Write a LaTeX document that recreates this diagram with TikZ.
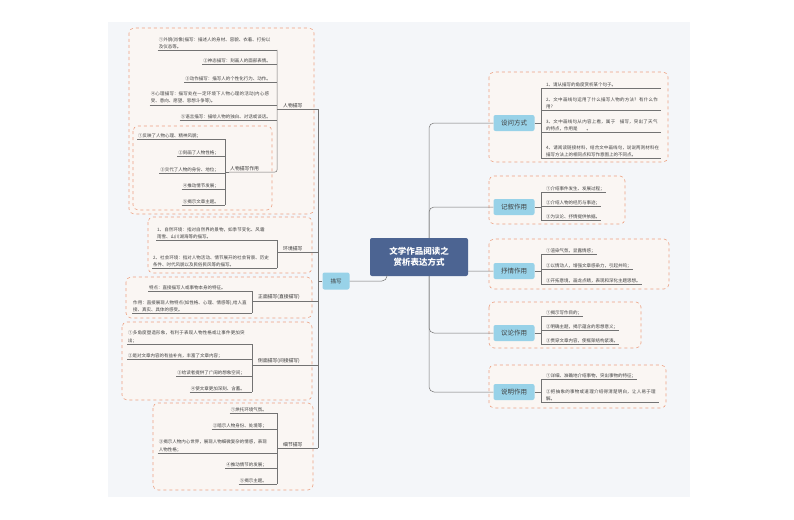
\documentclass[tikz,border=0pt]{standalone}
\usepackage{fontspec}
\setmainfont{Noto Sans CJK SC}
\XeTeXlinebreaklocale "zh"
\XeTeXlinebreakskip=0pt plus 1pt
\definecolor{cmain}{RGB}{76,100,146}
\definecolor{ccat}{RGB}{152,210,232}
\definecolor{cbg}{RGB}{244,246,249}
\definecolor{cdash}{RGB}{236,160,130}
\definecolor{cgrp}{RGB}{250,246,243}
\begin{document}
\begin{tikzpicture}[x=1pt,y=-1pt,
  it/.style={inner sep=1pt,font=\fontsize{4.5}{7.2}\selectfont,text=black!75,align=left},
  lab/.style={inner sep=1pt,font=\fontsize{4.8}{7}\selectfont,text=black!80},
  ln/.style={draw=black!55,line width=0.5pt,rounded corners=2pt},
  grp/.style={draw=cdash,dashed,line width=0.6pt,fill=cgrp,rounded corners=5pt},
  cat/.style={fill=ccat,rounded corners=2pt,font=\fontsize{6.5}{8}\selectfont,text=black!75,minimum width=41pt,minimum height=16pt,inner sep=1pt}]
\useasboundingbox (0,0) rectangle (794,519);
\fill[white] (0,0) rectangle (794,519);
\fill[cbg] (108,22) rectangle (690,497);
% groups
\draw[grp] (129,28) rectangle (314,214);
\draw[grp] (133,126) rectangle (272,210);
\draw[grp] (148,217) rectangle (312,273);
\draw[grp] (126,277) rectangle (312,318);
\draw[grp] (122,322) rectangle (312,400);
\draw[grp] (153,403) rectangle (313,490);
\draw[grp] (489,72) rectangle (668,162);
\draw[grp] (489,176) rectangle (625,224);
\draw[grp] (489,239) rectangle (669,289);
\draw[grp] (489,302) rectangle (641,348);
\draw[grp] (489,365) rectangle (666,408);
\coordinate (bL1) at (277,0);
\coordinate (bL2) at (225,0);
\coordinate (bL3) at (252,0);
\coordinate (bT) at (318,0);
\coordinate (bR) at (541,0);
\coordinate (cc) at (429,257);
% right cats
\node[cat] (s1) at (514,123) {设问方式};
\node[cat] (s2) at (514,207) {记叙作用};
\node[cat] (s3) at (514,271) {抒情作用};
\node[cat] (s4) at (514,333) {议论作用};
\node[cat] (s5) at (514,392) {说明作用};
\foreach \n in {s1,s2,s3,s4,s5}{\draw[ln,rounded corners=5pt] (cc) |- (\n.west);}
\node[fill=cmain,text=white,rounded corners=2pt,font=\bfseries\fontsize{8.5}{11}\selectfont,align=center,minimum width=98pt,minimum height=38pt] (c) at (419,257) {文学作品阅读之\\赏析表达方式};
\node[cat,minimum width=27pt,minimum height=17pt,font=\fontsize{5.5}{7}\selectfont] (d) at (336,281) {描写};
\draw[ln,rounded corners=5pt] (d.east) -| (c.south -| 387,0);
% right items
\node[it,anchor=south west,text width=114pt] (r11) at (545,88) {1、请从描写的角度赏析某个句子。};
\node[it,anchor=south west,text width=114pt] (r12) at (545,110) {2、文中画线句运用了什么描写人物的方法？有什么作用？};
\node[it,anchor=south west,text width=114pt] (r13) at (545,132) {3、文中画线句从内容上看，属于\quad 描写，突出了天气\quad 的特点，作用是\qquad 。};
\node[it,anchor=south west,text width=114pt] (r14) at (545,158) {4、请阅读链接材料，结合文中画线句，说说两则材料在描写方法上的相同点和写作意图上的不同点。};
\node[it,anchor=south west] (r21) at (545,192) {①介绍事件发生、发展过程；};
\node[it,anchor=south west] (r22) at (545,206) {②介绍人物的经历与事迹；};
\node[it,anchor=south west] (r23) at (545,220) {③为议论、抒情提供依据。};
\node[it,anchor=south west] (r31) at (545,254) {①渲染气氛，显露情感；};
\node[it,anchor=south west] (r32) at (545,269) {②以情动人，增强文章感染力，引起共鸣；};
\node[it,anchor=south west] (r33) at (545,284) {③开拓意境，画龙点睛，表现和深化主题思想。};
\node[it,anchor=south west] (r41) at (545,316) {①揭示写作目的；};
\node[it,anchor=south west] (r42) at (545,330) {②明确主题，揭示蕴含的思想意义；};
\node[it,anchor=south west] (r43) at (545,344) {③贯穿文章内容，使框架结构紧凑。};
\node[it,anchor=south west] (r51) at (545,379) {①详细、准确地介绍事物，突出事物的特征；};
\node[it,anchor=south west,text width=112pt] (r52) at (545,402) {②把抽象的事物或道理介绍得清楚明白，让人易于理解。};
\foreach \n in {r11,r12,r13,r14,r21,r22,r23,r31,r32,r33,r41,r42,r43,r51,r52}{\draw[ln,rounded corners=0pt] (bR |- \n.south) -- (\n.south east);}
\draw[ln] (s1.east) -- (bR |- s1.east); \draw[ln] (bR |- r11.south) -- (bR |- r14.south);
\draw[ln] (s2.east) -- (bR |- s2.east); \draw[ln] (bR |- r21.south) -- (bR |- r23.south);
\draw[ln] (s3.east) -- (bR |- s3.east); \draw[ln] (bR |- r31.south) -- (bR |- r33.south);
\draw[ln] (s4.east) -- (bR |- s4.east); \draw[ln] (bR |- r41.south) -- (bR |- r43.south);
\draw[ln] (s5.east) -- (bR |- s5.east); \draw[ln] (bR |- r51.south) -- (bR |- r52.south);
% left labels
\node[lab,anchor=south west] (l1) at (282,109) {人物描写};
\node[lab,anchor=south west] (l2) at (229,172) {人物描写作用};
\node[lab,anchor=south west] (l3) at (282,252) {环境描写};
\node[lab,anchor=south west] (l4) at (257,301) {正面描写(直接描写)};
\node[lab,anchor=south west] (l5) at (257,365) {侧面描写(间接描写)};
\node[lab,anchor=south west] (l6) at (282,448) {细节描写};
% 人物描写 items
\node[it,anchor=south east,text width=112pt] (a1) at (272,50) {①外貌(肖像)描写：描述人的身材、容貌、衣着、打扮以及仪态等。};
\node[it,anchor=south east] (a2) at (272,64) {②神态描写：刻画人的面部表情。};
\node[it,anchor=south east] (a3) at (272,82) {③动作描写：描写人的个性化行为、动作。};
\node[it,anchor=south east,text width=120pt] (a4) at (272,105) {④心理描写：描写处在一定环境下人物心理的活动(内心感受、意向、愿望、思想斗争等)。};
\node[it,anchor=south east] (a5) at (272,120) {⑤语言描写：描绘人物的独白、对话或谈话。};
\foreach \n in {a1,a2,a3,a4,a5}{\draw[ln,rounded corners=0pt] (\n.south west) -- (bL1 |- \n.south);}
\draw[ln] (bL1 |- a1.south) -- (bL1 |- l2.south) -- (l2.south west);
% 作用 items
\node[it,anchor=south west] (b1) at (137,139) {①反映了人物心理、精神风貌；};
\node[it,anchor=south east] (b2) at (220,156) {②刻画了人物性格；};
\node[it,anchor=south east] (b3) at (220,173) {③交代了人物的身份、地位；};
\node[it,anchor=south east] (b4) at (220,189) {④推动情节发展；};
\node[it,anchor=south east] (b5) at (220,205) {⑤揭示文章主题。};
\foreach \n in {b1,b2,b3,b4,b5}{\draw[ln,rounded corners=0pt] (\n.south west) -- (bL2 |- \n.south);}
\draw[ln] (bL2 |- b1.south) -- (bL2 |- b5.south);
\draw[ln,rounded corners=0pt] (bL2 |- l2.south) -- (l2.south west);
% 环境
\node[it,anchor=south west,text width=108pt] (e1) at (156,240) {1、自然环境：指对自然界的景物，如季节变化、风霜雨雪、山川湖海等的描写。};
\node[it,anchor=south west,text width=116pt] (e2) at (152,268) {2、社会环境：指对人物活动、情节展开的社会背景、历史条件、时代风貌以及民俗民风等的描写。};
\foreach \n in {e1,e2}{\draw[ln,rounded corners=0pt] (\n.south west) -- (bL1 |- \n.south);}
\draw[ln] (bL1 |- e1.south) -- (bL1 |- e2.south);
% 正面
\node[it,anchor=south west] (f1) at (148,291) {特点：直接描写人或事物本身的特征。};
\node[it,anchor=south west,text width=114pt] (f2) at (132,313) {作用：直接展现人物特点(如性格、心理、情感等),给人直接、真实、具体的感受。};
\foreach \n in {f1,f2}{\draw[ln,rounded corners=0pt] (\n.south west) -- (bL3 |- \n.south);}
\draw[ln] (bL3 |- f1.south) -- (bL3 |- f2.south);
% 侧面
\node[it,anchor=south west,text width=118pt] (g1) at (127,344) {①多角度塑造形象，有利于表现人物性格或让事件更加突出；};
\node[it,anchor=south west] (g2) at (127,359) {②是对文章内容的有益补充，丰富了文章内容；};
\node[it,anchor=south east] (g3) at (246,376) {③给读者提供了广阔的想象空间；};
\node[it,anchor=south east] (g4) at (246,392) {④使文章更加深刻、含蓄。};
\foreach \n in {g1,g2,g3,g4}{\draw[ln,rounded corners=0pt] (\n.south west) -- (bL3 |- \n.south);}
\draw[ln] (bL3 |- g1.south) -- (bL3 |- g4.south);
% 细节
\node[it,anchor=south east] (h1) at (268,413) {①烘托环境气氛。};
\node[it,anchor=south east] (h2) at (268,429) {②暗示人物身份、处境等；};
\node[it,anchor=south east,text width=108pt] (h3) at (268,453) {③揭示人物内心世界，展现人物细微复杂的情感，表现人物性格；};
\node[it,anchor=south east] (h4) at (268,468) {④推动情节的发展；};
\node[it,anchor=south east] (h5) at (268,484) {⑤揭示主题。};
\foreach \n in {h1,h2,h3,h4,h5}{\draw[ln,rounded corners=0pt] (\n.south west) -- (bL1 |- \n.south);}
\draw[ln] (bL1 |- h1.south) -- (bL1 |- h5.south);
% left label underlines to trunk
\foreach \n in {l1,l3,l6}{\draw[ln,rounded corners=0pt] (bL1 |- \n.south) -- (bT |- \n.south);}
\foreach \n in {l4,l5}{\draw[ln,rounded corners=0pt] (bL3 |- \n.south) -- (bT |- \n.south);}
\draw[ln] (bT |- l1.south) -- (bT |- l6.south);
\draw[ln] (d.west) -- (bT |- d.west);
\end{tikzpicture}
\end{document}
